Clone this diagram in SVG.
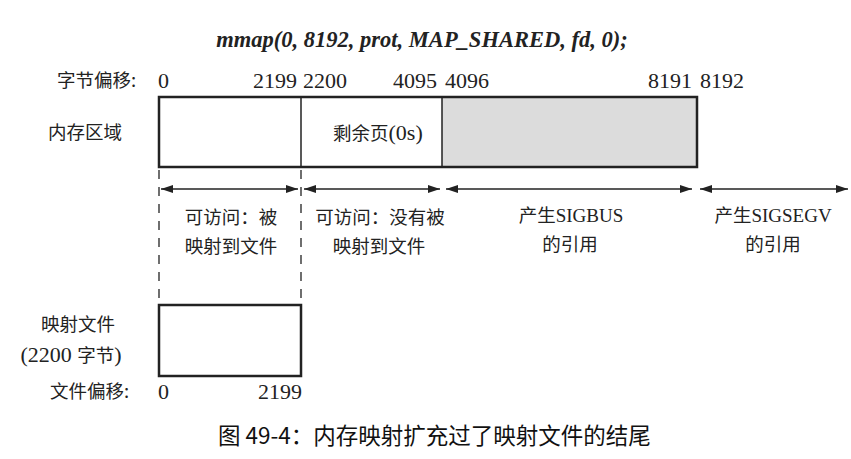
<svg xmlns="http://www.w3.org/2000/svg" width="851" height="459" viewBox="0 0 851 459">
<defs>
<style>
.t{font-family:"Liberation Serif","Noto Sans CJK SC",serif;font-size:22px;fill:#222}
.c{font-family:"Noto Sans CJK SC",serif;font-size:18.5px;fill:#222}
.s{font-family:"Liberation Serif",serif;font-size:19px}
.s2{font-family:"Liberation Serif",serif;font-size:22px}
.box{fill:none;stroke:#222;stroke-width:2.5}
.div{stroke:#222;stroke-width:1.5}
.arr{stroke:#222;stroke-width:1.3;marker-start:url(#ah);marker-end:url(#ah)}
.dash{stroke:#222;stroke-width:1.3;stroke-dasharray:9 8}
</style>
<marker id="ah" viewBox="0 0 12 8" refX="12" refY="4" markerWidth="12" markerHeight="8" markerUnits="userSpaceOnUse" orient="auto-start-reverse">
<path d="M0,0 L12,4 L0,8 Z" fill="#222"/>
</marker>
</defs>
<rect width="851" height="459" fill="#fff"/>
<text x="422" y="47" text-anchor="middle" font-family="Liberation Serif,serif" font-style="italic" font-weight="bold" font-size="22.5" fill="#222">mmap(0, 8192, prot, MAP_SHARED, fd, 0);</text>

<g id="byte-offsets">
<text class="c" x="57" y="87">字节偏移:</text>
<text class="t" x="158" y="88">0</text>
<text class="t" x="297" y="88" text-anchor="end">2199</text>
<text class="t" x="303" y="88">2200</text>
<text class="t" x="437" y="88" text-anchor="end">4095</text>
<text class="t" x="445" y="88">4096</text>
<text class="t" x="692" y="88" text-anchor="end">8191</text>
<text class="t" x="700" y="88">8192</text>
</g>

<g id="memory-region">
<text class="c" x="48" y="139">内存区域</text>
<rect x="442" y="97" width="255" height="70" fill="#dcdcdc"/>
<rect class="box" x="159" y="97" width="538" height="70"/>
<line class="div" x1="301" y1="97" x2="301" y2="167"/>
<line class="div" x1="442" y1="97" x2="442" y2="167"/>
<text class="c" x="333" y="140">剩余页<tspan class="s2">(0s)</tspan></text>
</g>

<g id="connectors">
<line class="dash" x1="159" y1="170" x2="159" y2="300"/>
<line class="dash" x1="301" y1="170" x2="301" y2="300"/>
<line class="arr" x1="161" y1="189" x2="298" y2="189"/>
<line class="arr" x1="304" y1="189" x2="440" y2="189"/>
<line class="arr" x1="446" y1="189" x2="692" y2="189"/>
<line class="arr" x1="700" y1="189" x2="848" y2="189"/>
</g>

<g id="seg-mapped">
<text class="c" x="231" y="224" text-anchor="middle">可访问：被</text>
<text class="c" x="231" y="253" text-anchor="middle">映射到文件</text>
</g>
<g id="seg-remaining">
<text class="c" x="380" y="224" text-anchor="middle">可访问：没有被</text>
<text class="c" x="379" y="253" text-anchor="middle">映射到文件</text>
</g>
<g id="seg-sigbus">
<text class="c" x="571" y="222" text-anchor="middle">产生<tspan class="s">SIGBUS</tspan></text>
<text class="c" x="570" y="251" text-anchor="middle">的引用</text>
</g>
<g id="seg-sigsegv">
<text class="c" x="773" y="222" text-anchor="middle">产生<tspan class="s">SIGSEGV</tspan></text>
<text class="c" x="773" y="251" text-anchor="middle">的引用</text>
</g>

<g id="mapped-file">
<rect class="box" x="159" y="305" width="142" height="71" fill="#fff"/>
<text class="c" x="78" y="331" text-anchor="middle">映射文件</text>
<text class="c" x="71" y="362" text-anchor="middle"><tspan class="s2">(2200 </tspan>字节<tspan class="s2">)</tspan></text>
</g>

<g id="file-offsets">
<text class="c" x="50" y="398">文件偏移:</text>
<text class="t" x="158" y="399">0</text>
<text class="t" x="302" y="399" text-anchor="end">2199</text>
</g>

<text x="218" y="444" font-family="Noto Sans CJK SC,sans-serif" font-size="22.5" fill="#111">图 49-4：内存映射扩充过了映射文件的结尾</text>
</svg>
